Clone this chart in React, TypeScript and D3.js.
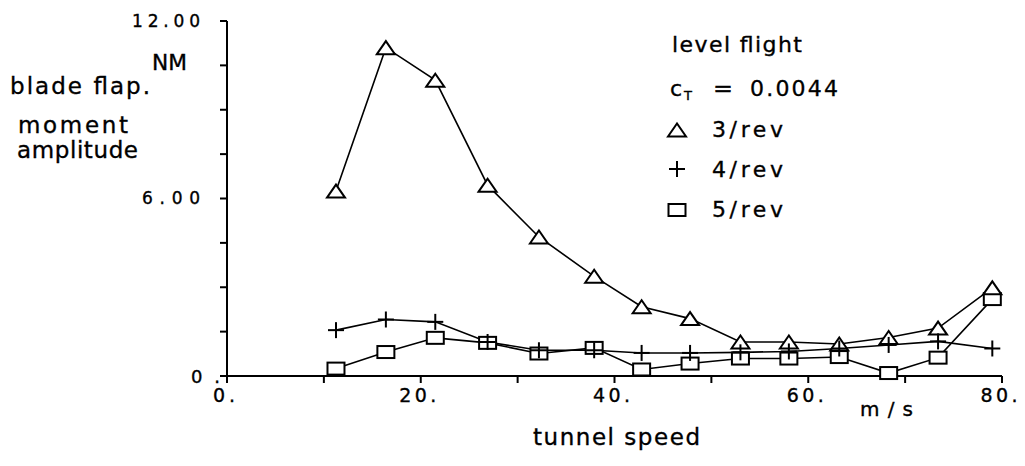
import React from "react";
import * as d3 from "d3";

const speeds = [11.25, 16.4, 21.5, 26.9, 32.2, 37.9, 42.8, 47.8, 53.0, 58.0, 63.2, 68.3, 73.4, 79.0];
const rev3 = [6.25, 11.1, 10.0, 6.45, 4.7, 3.37, 2.34, 1.94, 1.15, 1.15, 1.08, 1.3, 1.62, 2.98];
const rev4 = [1.55, 1.91, 1.83, 1.15, 0.87, 0.87, 0.78, 0.78, 0.8, 0.83, 0.93, 1.05, 1.17, 0.93];
const rev5 = [0.25, 0.81, 1.29, 1.12, 0.76, 0.95, 0.22, 0.42, 0.59, 0.59, 0.64, 0.1, 0.62, 2.6];

const xTicks = [0, 10, 20, 30, 40, 50, 60, 70, 80];
const xTickLabels = ["0.", "", "20.", "", "40.", "", "60.", "", "80."];
const yTicks = [0, 1.5, 3, 4.5, 6, 7.5, 9, 10.5, 12];
const yTickLabels = ["0.", "", "", "", "6.00", "", "", "", "12.00"];

const W = 1025;
const H = 466;
const FONT = "DejaVu Sans, sans-serif";

const x = d3.scaleLinear().domain([0, 80]).range([227, 1002]);
const y = d3.scaleLinear().domain([0, 12]).range([376, 21]);

function Triangle({ cx, cy }: { cx: number; cy: number }) {
  const w = 9, h = 13;
  const p = `M${cx - w},${cy + h / 2}L${cx},${cy - h / 2}L${cx + w},${cy + h / 2}Z`;
  return <path d={p} fill="white" stroke="black" strokeWidth={2} strokeLinejoin="miter" />;
}
function Square({ cx, cy }: { cx: number; cy: number }) {
  return <rect x={cx - 8.5} y={cy - 6} width={17} height={12} fill="white" stroke="black" strokeWidth={2} />;
}
function Cross({ cx, cy }: { cx: number; cy: number }) {
  return (
    <g stroke="black" strokeWidth={2}>
      <line x1={cx - 8} x2={cx + 8} y1={cy} y2={cy} />
      <line x1={cx} x2={cx} y1={cy - 8} y2={cy + 8} />
    </g>
  );
}

export default function App() {
  const line = d3
    .line<number>()
    .x((_, i) => x(speeds[i]))
    .y((d) => y(d));

  const txt = (props: any, s: string) => (
    <text fontFamily={FONT} fill="black" stroke="black" strokeWidth={0.35} {...props}>
      {s}
    </text>
  );

  return (
    <div style={{ position: "absolute", left: 0, top: 0 }}>
      <svg width={W} height={H} style={{ display: "block", background: "white" }}>
        {/* axes */}
        <line x1={x(0)} x2={x(80)} y1={y(0)} y2={y(0)} stroke="black" strokeWidth={2} />
        <line x1={x(0)} x2={x(0)} y1={y(0)} y2={y(12)} stroke="black" strokeWidth={2} />
        {xTicks.map((t, i) => (
          <g key={"xt" + i}>
            <line x1={x(t)} x2={x(t)} y1={y(0)} y2={y(0) + 7} stroke="black" strokeWidth={2} />
            {xTickLabels[i] &&
              txt(
                {
                  x: x(t) - 3,
                  y: 402,
                  fontSize: 19,
                  textAnchor: "middle",
                  textLength: xTickLabels[i].length > 2 ? 37 : 22,
                  lengthAdjust: "spacing",
                },
                xTickLabels[i]
              )}
          </g>
        ))}
        {yTicks.map((t, i) => (
          <g key={"yt" + i}>
            <line x1={x(0) - 7} x2={x(0)} y1={y(t)} y2={y(t)} stroke="black" strokeWidth={2} />
          </g>
        ))}
        {txt({ x: 200, y: 27, fontSize: 17, textAnchor: "end", textLength: 68, lengthAdjust: "spacing" }, yTickLabels[8])}
        {txt({ x: 200, y: 204, fontSize: 17, textAnchor: "end", textLength: 58, lengthAdjust: "spacing" }, yTickLabels[4])}
        {txt({ x: 220, y: 383, fontSize: 18, textAnchor: "end", textLength: 29, lengthAdjust: "spacing" }, yTickLabels[0])}

        {/* axis titles */}
        {txt({ x: 152, y: 70, fontSize: 21, textLength: 35, lengthAdjust: "spacingAndGlyphs" }, "NM")}
        {txt({ x: 10, y: 94, fontSize: 23, textLength: 140, lengthAdjust: "spacing" }, "blade flap.")}
        {txt({ x: 18, y: 133, fontSize: 23, textLength: 110, lengthAdjust: "spacing" }, "moment")}
        {txt({ x: 17, y: 158, fontSize: 23, textLength: 121, lengthAdjust: "spacing" }, "amplitude")}
        {txt({ x: 533, y: 445, fontSize: 23, textLength: 167, lengthAdjust: "spacing" }, "tunnel speed")}
        {txt({ x: 860, y: 416, fontSize: 20, textLength: 53, lengthAdjust: "spacing" }, "m/s")}

        {/* legend */}
        {txt({ x: 672, y: 52, fontSize: 22, textLength: 130, lengthAdjust: "spacing" }, "level flight")}
        {txt({ x: 670, y: 96, fontSize: 22 }, "c")}
        {txt({ x: 684, y: 100, fontSize: 13 }, "T")}
        {txt({ x: 713, y: 96, fontSize: 22, textLength: 20, lengthAdjust: "spacingAndGlyphs" }, "=")}
        {txt({ x: 750, y: 96, fontSize: 22, textLength: 88, lengthAdjust: "spacing" }, "0.0044")}
        <Triangle cx={677} cy={130} />
        {txt({ x: 712, y: 137, fontSize: 22, textLength: 71, lengthAdjust: "spacing" }, "3/rev")}
        <Cross cx={677} cy={169} />
        {txt({ x: 712, y: 177, fontSize: 22, textLength: 71, lengthAdjust: "spacing" }, "4/rev")}
        <Square cx={677} cy={210} />
        {txt({ x: 712, y: 217, fontSize: 22, textLength: 71, lengthAdjust: "spacing" }, "5/rev")}

        {/* series lines */}
        <path d={line(rev3) || ""} fill="none" stroke="black" strokeWidth={1.6} />
        <path d={line(rev4) || ""} fill="none" stroke="black" strokeWidth={1.6} />
        <path d={line(rev5) || ""} fill="none" stroke="black" strokeWidth={1.6} />

        {/* markers */}
        {rev5.map((v, i) => (
          <Square key={"s" + i} cx={x(speeds[i])} cy={y(v)} />
        ))}
        {rev3.map((v, i) => (
          <Triangle key={"t" + i} cx={x(speeds[i])} cy={y(v)} />
        ))}
        {rev4.map((v, i) => (
          <Cross key={"c" + i} cx={x(speeds[i])} cy={y(v)} />
        ))}
      </svg>
    </div>
  );
}
